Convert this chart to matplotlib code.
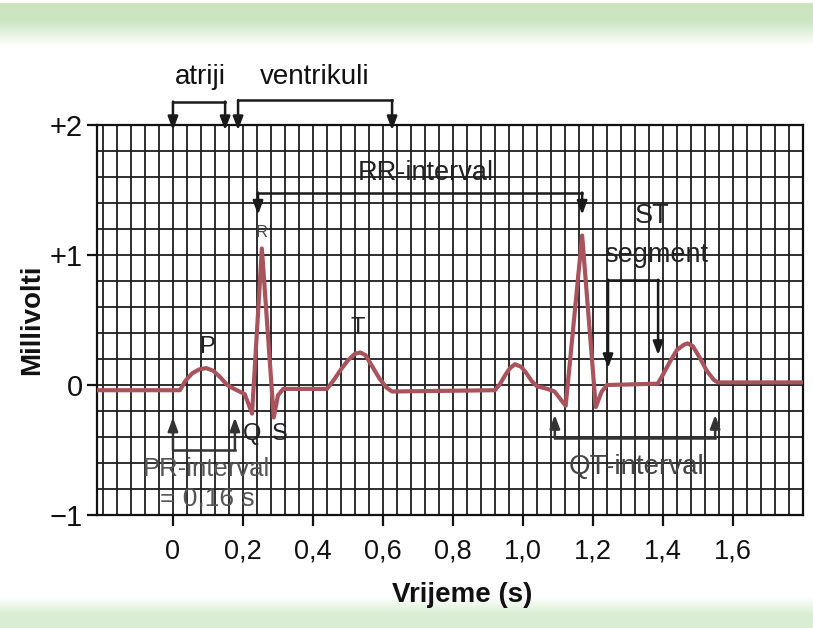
import numpy as np
import matplotlib
matplotlib.use("Agg")
import matplotlib.pyplot as plt

plt.rcParams['font.family'] = ['Liberation Sans', 'DejaVu Sans']

# ---------------- data ----------------
# ECG trace: time (s) and voltage (mV)
ecg_time = [-0.217, 0.02, 0.035, 0.055, 0.075, 0.095, 0.115, 0.135, 0.155, 0.175,
            0.19, 0.205, 0.226, 0.254, 0.288, 0.30, 0.315, 0.44,
            0.46, 0.48, 0.50, 0.52, 0.535, 0.55, 0.57, 0.59, 0.61, 0.626,
            0.92, 0.935, 0.95, 0.963, 0.977, 0.995, 1.01, 1.025, 1.04, 1.07, 1.09,
            1.122, 1.169, 1.208, 1.225, 1.24, 1.385,
            1.40, 1.42, 1.44, 1.46, 1.47, 1.485, 1.505, 1.525, 1.545, 1.556, 1.80]
ecg_mv = [-0.04, -0.04, 0.03, 0.09, 0.12, 0.13, 0.11, 0.06, 0.0, -0.03,
          -0.05, -0.07, -0.22, 1.05, -0.25, -0.08, -0.03, -0.03,
          0.04, 0.12, 0.19, 0.24, 0.25, 0.23, 0.14, 0.05, -0.02, -0.05,
          -0.04, 0.01, 0.08, 0.13, 0.16, 0.14, 0.09, 0.03, -0.01, -0.03, -0.05,
          -0.16, 1.15, -0.17, -0.05, 0.0, 0.01,
          0.08, 0.18, 0.27, 0.31, 0.32, 0.30, 0.21, 0.11, 0.04, 0.02, 0.02]

x_ticks = [0, 0.2, 0.4, 0.6, 0.8, 1.0, 1.2, 1.4, 1.6]
x_tick_labels = ["0", "0,2", "0,4", "0,6", "0,8", "1,0", "1,2", "1,4", "1,6"]
y_ticks = [-1, 0, 1, 2]
y_tick_labels = ["\u22121", "0", "+1", "+2"]

# bracket annotations: (left t, right t)
atriji_span = (0.0, 0.149)
ventrikuli_span = (0.186, 0.626)
rr_span = (0.243, 1.169)
st_span = (1.243, 1.386)
pr_span = (0.0, 0.177)
qt_span = (1.091, 1.549)

# ---------------- figure ----------------
fig = plt.figure(figsize=(8.13, 6.28), dpi=100)

# scanned-page background tint
bg = fig.add_axes([0, 0, 1, 1], zorder=-10)
h = 628
prof = np.ones((h, 1, 3))
green_top = np.array([0.80, 0.90, 0.76])
green_bot = np.array([0.85, 0.93, 0.82])
for r in range(h):
    if 3 <= r < 46:
        a = 1.0 if r < 20 else max(0.0, 1 - (r - 20) / 26)
        prof[r, 0] = (1 - a) * np.ones(3) + a * green_top
    elif r > 596:
        a = min(1.0, (r - 596) / 18)
        prof[r, 0] = (1 - a) * np.ones(3) + a * green_bot
prof = np.repeat(prof, 10, axis=1)
bg.imshow(prof, aspect='auto', extent=[0, 1, 0, 1])
bg.set_axis_off()

ax = fig.add_axes([97 / 813, 1 - 515 / 628, 706 / 813, 390 / 628])
ax.set_xlim(-0.217, 1.8)
ax.set_ylim(-1, 2)
ax.set_facecolor('white')

# grid
grid_col = '#1e1e1e'
for gx in np.arange(-0.2, 1.81, 0.04):
    ax.axvline(gx, color=grid_col, lw=1.3, zorder=1)
for gy in np.arange(-1, 2.01, 0.2):
    ax.axhline(gy, color=grid_col, lw=1.3, zorder=1)

for s in ax.spines.values():
    s.set_linewidth(1.6)
    s.set_color('#111111')

# trace
ax.plot(ecg_time, ecg_mv, color='#a9535d', lw=3.0, zorder=5,
        solid_joinstyle='round', solid_capstyle='round')

ax.set_xticks(x_ticks)
ax.set_xticklabels(x_tick_labels)
ax.set_yticks(y_ticks)
ax.set_yticklabels(y_tick_labels)
ax.tick_params(axis='x', length=8, width=1.6, pad=9, labelsize=19.5, colors='#111111')
ax.tick_params(axis='y', length=7, width=1.6, pad=3, labelsize=21, colors='#111111')

ax.set_ylabel("Millivolti", fontsize=20, fontweight='bold', color='#111111')
ax.yaxis.set_label_coords(-0.074, 0.5)
ax.set_xlabel("Vrijeme (s)", fontsize=20, fontweight='bold', color='#111111')
ax.xaxis.set_label_coords((462 - 97) / 706, -0.172)

LC = '#1a1a1a'


def bracket(span, base, tips, color=LC, lw=1.8):
    (x0, x1) = span
    (t0, t1) = tips
    ax.plot([x0, x1], [base, base], color=color, lw=lw, clip_on=False, zorder=6,
            solid_capstyle='projecting')
    for xx, tt in ((x0, t0), (x1, t1)):
        ax.annotate("", xy=(xx, tt), xytext=(xx, base),
                    arrowprops=dict(arrowstyle='-|>,head_length=0.8,head_width=0.3',
                                    color=color, lw=lw, shrinkA=0, shrinkB=0),
                    annotation_clip=False, zorder=6)


bracket(atriji_span, 2.18, (1.96, 1.96))
bracket(ventrikuli_span, 2.19, (1.96, 1.96))
bracket(rr_span, 1.48, (1.31, 1.31))
bracket(st_span, 0.81, (0.13, 0.23))
bracket(pr_span, -0.50, (-0.25, -0.25), color='#333333')
bracket(qt_span, -0.41, (-0.23, -0.23), color='#333333')

ax.text(0.077, 2.37, "atriji", fontsize=20, ha='center', va='center', color='#111111')
ax.text(0.406, 2.37, "ventrikuli", fontsize=20, ha='center', va='center', color='#111111')
ax.text(0.723, 1.63, "RR-interval", fontsize=19.5, ha='center', va='center', color='#222222', zorder=7)
ax.text(1.369, 1.30, "ST", fontsize=19.5, ha='center', va='center', color='#222222', zorder=7)
ax.text(1.38, 1.00, "segment", fontsize=19.5, ha='center', va='center', color='#222222', zorder=7)
ax.text(0.097, -0.65, "PR-interval", fontsize=18.5, ha='center', va='center', color='#555555', zorder=7)
ax.text(0.097, -0.87, "= 0,16 s", fontsize=19, ha='center', va='center', color='#555555', zorder=7)
ax.text(1.325, -0.63, "QT-interval", fontsize=20, ha='center', va='center', color='#444444', zorder=7)

ax.text(0.097, 0.29, "P", fontsize=17, ha='center', va='center', color='#222222', zorder=7)
ax.text(0.529, 0.44, "T", fontsize=17, ha='center', va='center', color='#222222', zorder=7)
ax.text(0.226, -0.38, "Q", fontsize=17, ha='center', va='center', color='#222222', zorder=7)
ax.text(0.306, -0.38, "S", fontsize=17, ha='center', va='center', color='#222222', zorder=7)
ax.text(0.254, 1.17, "R", fontsize=12, ha='center', va='center', color='#444444', zorder=7)

fig.savefig("out.png", dpi=100)
